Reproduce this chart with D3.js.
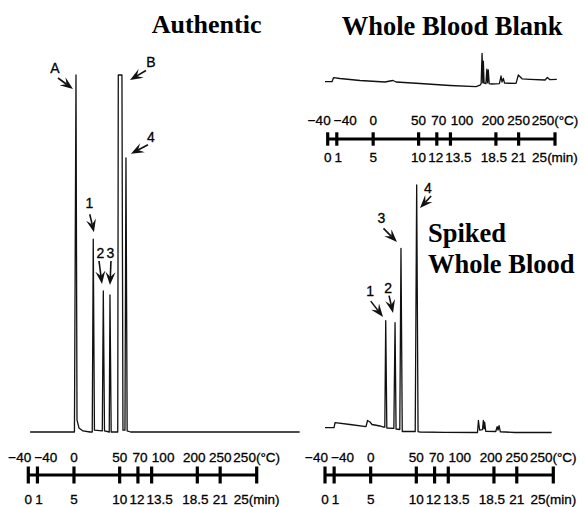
<!DOCTYPE html>
<html><head><meta charset="utf-8">
<script src="https://cdn.jsdelivr.net/npm/d3@7"></script>
<style>body{margin:0;background:#fff}svg{display:block}</style>
</head><body><svg id="c" width="585" height="507"></svg>
<script>
// ---------- DATA ----------
const timeTicks = [0, 1, 5, 10, 12, 13.5, 18.5, 21, 25];
const tempLabels = ["−40", "−40", "0", "50", "70", "100", "200", "250", "250(°C)"];
const minLabels = ["0", "1", "5", "10", "12", "13.5", "18.5", "21", "25(min)"];

// Authentic chromatogram (time in min, relative signal)
const authTime =   [0.2, 5.05, 5.22, 5.33, 5.55, 5.98, 6.75, 7.0, 7.11, 7.24, 8.10, 8.21, 8.34, 8.86, 8.94, 9.07, 9.79, 9.85, 10.25, 10.36, 10.58, 10.69, 10.82, 11.2, 29.7];
const authSignal = [0,   0,    100,  3.4,  1.1,  0.3,  0,    0,   54,   0.5,  0.3,  39.5, 0.3,  0,    38.4, 0,    0,    100,  100,   0.5,   0.5,   76.8,  0.3,   0,    0];
const authPeakNames = ["A", "1", "2", "3", "B", "4"];
const authPeakTimes = [5.22, 7.11, 8.21, 8.94, 10.09, 10.69];
const authPeakSignals = [100, 54, 39.5, 38.4, 100, 76.8];

// Whole blood blank chromatogram
const blankTime =   [0, 0.77, 0.93, 1.64, 3.83, 6.57, 7.12, 7.45, 7.78, 10.41, 13.69, 16.54, 16.98, 17.1, 17.2, 17.28, 17.34, 17.42, 17.62, 17.72, 17.8, 17.88, 17.98, 18.26, 19.1, 19.28, 19.38, 19.53, 19.66, 20.92, 21.17, 21.58, 22.45, 24.1, 24.35, 24.6, 25.38];
const blankSignal = [20.75, 20.75, 30.75, 28.75, 23.75, 20, 22.5, 23.75, 20, 16.25, 11.25, 8.25, 12, 16, 91.75, 18, 72, 17, 16, 52, 18, 50, 16, 15, 16, 35, 20, 29, 17, 16.75, 37.5, 28, 26.75, 25, 31.25, 26, 26.75];

// Spiked whole blood chromatogram
const spikedTime =   [0, 0.99, 1.10, 2.74, 4.49, 4.66, 4.93, 5.15, 6.02, 6.40, 6.55, 6.65, 6.77, 7.54, 7.67, 7.78, 8.19, 8.32, 8.46, 9.88, 10.04, 10.19, 10.41, 13.14, 16.7, 16.8, 16.93, 17.25, 17.34, 17.42, 17.48, 17.6, 18.7, 18.85, 18.95, 19.06, 19.2, 20.8, 24.82];
const spikedSignal = [1.94, 1.94, 3.96, 3.23, 2.34, 4.85, 4.24, 3.23, 2.63, 2.22, 2.14, 45.2, 1.82, 1.70, 44.4, 1.41, 1.21, 74.4, 0.4, 0.4, 100, 0.32, 0.2, 0.08, 0, 4.85, 1.0, 1.2, 4.85, 1.5, 4.2, 0.5, 0.4, 2.4, 1.0, 2.8, 0.3, 0, 0];
const spikedPeakNames = ["1", "2", "3", "4"];
const spikedPeakTimes = [6.65, 7.67, 8.32, 10.04];
const spikedPeakSignals = [45.2, 44.4, 74.4, 100];

// ---------- LAYOUT ----------
const svg = d3.select("#c");
const ink = "#111";
const sans = "Liberation Sans, Arial, sans-serif";

const xAuth = d3.scaleLinear().domain([0, 25]).range([28.3, 256.7]);
const xRight = d3.scaleLinear().domain([0, 25]).range([325, 553.3]);
const xRightTop = d3.scaleLinear().domain([0, 25]).range([327.7, 555]);

const yAuth = d3.scaleLinear().domain([0, 100]).range([432, 75]);
const yBlank = d3.scaleLinear().domain([0, 100]).range([90, 50]);
const ySpiked = d3.scaleLinear().domain([0, 100]).range([432.5, 185]);

function trace(times, signal, x, y) {
  const line = d3.line().x(d => x(d[0])).y(d => y(d[1]));
  svg.append("path")
    .attr("d", line(d3.zip(times, signal)))
    .attr("fill", "none").attr("stroke", ink)
    .attr("stroke-width", 1.3).attr("stroke-linejoin", "round");
}

// label nudges so that crowded labels do not overlap (pixels)
const tempNudge = [-8.5, 8.5, 0, 0, 2, 11.5, -3, 0, 0];
const minNudge = [0, 1.5, 0, 0, -1, 8, -2, 0, 0];

function sansText(sel, size) {
  return sel.attr("font-family", sans).attr("font-size", size)
    .attr("fill", "#000").attr("stroke", "#000").attr("stroke-width", 0.3);
}

function timeline(x, axisY, topBase, botBase, half) {
  const g = svg.append("g");
  g.append("line").attr("x1", x(0)).attr("x2", x(25))
    .attr("y1", axisY).attr("y2", axisY)
    .attr("stroke", "#000").attr("stroke-width", 3.2);
  g.selectAll("line.tk").data(timeTicks).join("line").attr("class", "tk")
    .attr("x1", d => x(d)).attr("x2", d => x(d))
    .attr("y1", axisY - half).attr("y2", axisY + half)
    .attr("stroke", "#000").attr("stroke-width", 3.2);
  sansText(g.selectAll("text.tp").data(tempLabels).join("text").attr("class", "tp")
    .attr("x", (d, i) => x(timeTicks[i]) + tempNudge[i]).attr("y", topBase)
    .attr("text-anchor", "middle"), 13.5)
    .text(d => d);
  sansText(g.selectAll("text.mn").data(minLabels).join("text").attr("class", "mn")
    .attr("x", (d, i) => x(timeTicks[i]) + minNudge[i]).attr("y", botBase)
    .attr("text-anchor", "middle"), 13.5)
    .text(d => d);
}

function arrow(sx, sy, tx, ty) {
  const dx = tx - sx, dy = ty - sy, len = Math.hypot(dx, dy);
  const ux = dx / len, uy = dy / len, nx = -uy, ny = ux;
  const L = 13, w = 5, notch = 5;
  const bx = tx - L * ux, by = ty - L * uy;
  const mx = tx - (L - notch) * ux, my = ty - (L - notch) * uy;
  svg.append("line").attr("x1", sx).attr("y1", sy).attr("x2", mx).attr("y2", my)
    .attr("stroke", ink).attr("stroke-width", 1.6);
  svg.append("path")
    .attr("d", `M${tx},${ty}L${bx + w * nx},${by + w * ny}L${mx},${my}L${bx - w * nx},${by - w * ny}Z`)
    .attr("fill", ink);
}

// offsets from each peak apex: [labelDx, labelDy, startDx, startDy, tipDx, tipDy]
const authOffsets = {
  "A": [-21, -2, -18, 3, -3, 14],
  "1": [-3.8, -31, -3.5, -25, 0.7, -7],
  "2": [-2.8, -33, -4.3, -30, -1.3, -7],
  "3": [0.5, -37, 1, -34, 0, -10],
  "B": [30.5, -8, 25.5, -4.5, 9.5, 5],
  "4": [25, -16, 22, -13, 5, -4]
};
const spikedOffsets = {
  "1": [-15.7, -24.7, -15, -19.5, -2.7, -3.7],
  "2": [-7, -29.7, -6, -27, -2, -9.7],
  "3": [-19.5, -25.3, -17.5, -20, -4, -6.3],
  "4": [11.3, 8, 14.5, 11, 3.3, 23]
};

function annotate(names, times, signals, x, y, offs) {
  names.forEach((n, i) => {
    const px = x(times[i]), py = y(signals[i]);
    const o = offs[n];
    sansText(svg.append("text").attr("x", px + o[0]).attr("y", py + o[1])
      .attr("text-anchor", "middle"), 14).text(n);
    arrow(px + o[2], py + o[3], px + o[4], py + o[5]);
  });
}

// traces
trace(authTime, authSignal, xAuth, yAuth);
trace(blankTime, blankSignal, xRight, yBlank);
trace(spikedTime, spikedSignal, xRight, ySpiked);

annotate(authPeakNames, authPeakTimes, authPeakSignals, xAuth, yAuth, authOffsets);
annotate(spikedPeakNames, spikedPeakTimes, spikedPeakSignals, xRight, ySpiked, spikedOffsets);

// timelines
timeline(xAuth, 475, 461.7, 504.3, 8.5);
timeline(xRight, 475, 461.7, 504.3, 8.5);
timeline(xRightTop, 139, 125, 161.7, 6.7);

// titles
const serif = "Liberation Serif, Times New Roman, serif";
svg.append("text").attr("x", 151.7).attr("y", 33.3).attr("font-family", serif)
  .attr("font-weight", "bold").attr("font-size", 26).text("Authentic");
svg.append("text").attr("x", 341.7).attr("y", 35).attr("font-family", serif)
  .attr("font-weight", "bold").attr("font-size", 26.5).text("Whole Blood Blank");
svg.append("text").attr("x", 428).attr("y", 242).attr("font-family", serif)
  .attr("font-weight", "bold").attr("font-size", 26.5).text("Spiked");
svg.append("text").attr("x", 428).attr("y", 273).attr("font-family", serif)
  .attr("font-weight", "bold").attr("font-size", 26.5).text("Whole Blood");
</script></body></html>
